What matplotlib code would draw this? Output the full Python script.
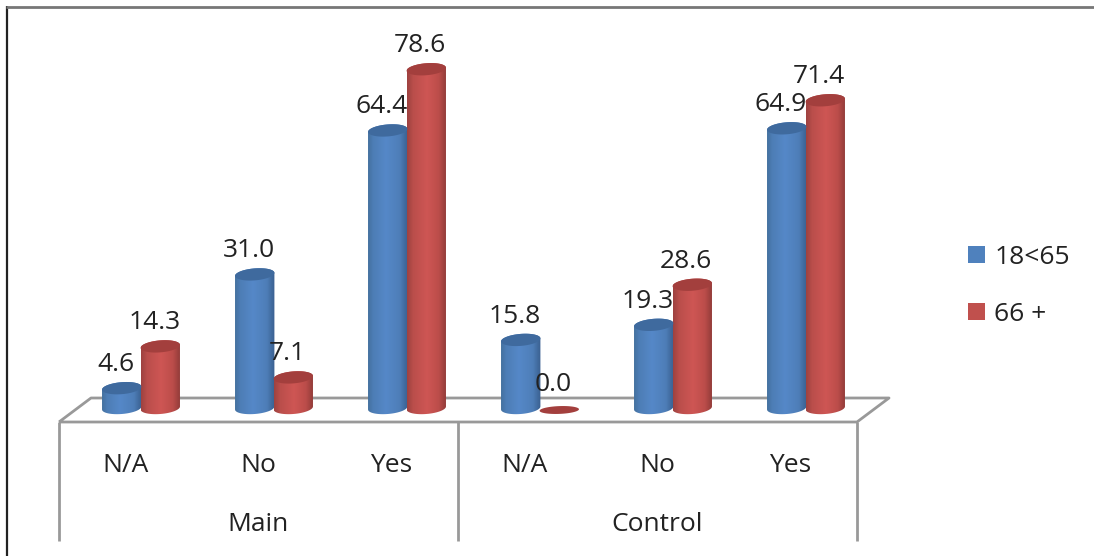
import numpy as np
import matplotlib
matplotlib.use("Agg")
import matplotlib.pyplot as plt
from matplotlib.colors import LinearSegmentedColormap
from matplotlib.patches import Patch, Polygon
from matplotlib.transforms import Affine2D

categories = ["N/A", "No", "Yes", "N/A", "No", "Yes"]
groups = ["Main", "Control"]
young = [4.6, 31.0, 64.4, 15.8, 19.3, 64.9]
old = [14.3, 7.1, 78.6, 0.0, 28.6, 71.4]
series_names = ["18<65", "66 +"]

W, H = 1094, 556
plt.rcParams["font.family"] = ["Open Sans", "DejaVu Sans"]
TXT = "#222222"
FS = 19
GRAY = "#999999"

fig = plt.figure(figsize=(W / 100, H / 100), dpi=100)
ax = fig.add_axes([0, 0, 1, 1])
ax.axis("off")

# one x unit is one category, one y unit is one percent
PX_X = 133.0
PX_Y = 4.31
XLIM = (-141 / PX_X, (W - 141) / PX_X)
YLIM = ((408 - H) / PX_Y, 408 / PX_Y)

# frame and floor are decoration, so they are placed in pixels
px = Affine2D().scale(1 / W, -1 / H).translate(0, 1) + fig.transFigure


def pline(xs, ys, color=GRAY, lw=2.0):
    ax.plot(xs, ys, color=color, lw=lw, transform=px, clip_on=False, solid_capstyle="butt", zorder=1)


pline([7, 7], [6, 556], "#222222", 1.6)
pline([6, 1094], [7, 7], "#777777", 2.0)
pline([59, 91, 889, 857, 59], [422, 398, 398, 422, 422])
for x in [59, 458, 857]:
    pline([x, x], [422, 541])


def cylinder(xc, value, base_cmap, cap_color, half=0.148):
    ry = 6 / PX_Y
    tilt = 1.5 / PX_Y
    t = np.linspace(0, 2 * np.pi, 80)
    if value == 0:
        # an empty bar is only a flat disc on the floor
        cap = Polygon(np.c_[xc + half * np.cos(t), -2 / PX_Y + 0.65 * ry * np.sin(t) + 0.5 * tilt * np.cos(t)],
                      fc=cap_color, ec="none", zorder=3)
        ax.add_patch(cap)
        return
    lower = np.linspace(np.pi, 2 * np.pi, 40)
    upper = np.linspace(0, np.pi, 40)
    outline = np.r_[np.c_[xc + half * np.cos(lower), ry * np.sin(lower) + tilt * np.cos(lower)],
                    np.c_[xc + half * np.cos(upper), value + ry * np.sin(upper) + tilt * np.cos(upper)]]
    body = Polygon(outline, fc="none", ec="none", zorder=3)
    ax.add_patch(body)
    grad = np.linspace(0, 1, 64).reshape(1, -1)
    im = ax.imshow(grad, cmap=base_cmap, extent=[xc - half, xc + half, -2 * ry, value + 2 * ry],
                   aspect="auto", zorder=3, interpolation="bilinear")
    im.set_clip_path(body)
    cap = Polygon(np.c_[xc + half * np.cos(t), value + ry * np.sin(t) + tilt * np.cos(t)],
                  fc=cap_color, ec="none", zorder=4)
    ax.add_patch(cap)


blue_cm = LinearSegmentedColormap.from_list(
    "b", [(0, "#44719F"), (0.12, "#4D7DB5"), (0.45, "#5588C8"), (0.8, "#4E7EB8"), (1, "#3A6090")])
red_cm = LinearSegmentedColormap.from_list(
    "r", [(0, "#9E4240"), (0.15, "#BA4E4B"), (0.5, "#CE5654"), (0.8, "#BC4D4A"), (1, "#8F3A38")])

series = [(young, -0.145, blue_cm, "#3F6A9E"), (old, 0.145, red_cm, "#A33F3D")]
for vals, off, cm, cap_col in series:
    for i, v in enumerate(vals):
        cylinder(i + off, v, cm, cap_col)
        ax.annotate(f"{v:.1f}", (i + off, v), xytext=(-4.3, 17), textcoords="offset points",
                    ha="center", va="center", fontsize=FS, color=TXT, zorder=10)

for i, c in enumerate(categories):
    ax.annotate(c, (i, 0), xytext=(-11.2, -41.5), textcoords="offset points",
                ha="center", va="center", fontsize=FS, color=TXT)
for g, name in enumerate(groups):
    ax.annotate(name, (1 + 3 * g, 0), xytext=(-11.2, -84), textcoords="offset points",
                ha="center", va="center", fontsize=FS, color=TXT)

handles = [Patch(fc="#4F81BD", ec="none"), Patch(fc="#C0504D", ec="none")]
ax.legend(handles, series_names, loc="upper left", bbox_to_anchor=(968 / W, 1 - 245 / H),
          frameon=False, fontsize=FS, handlelength=0.64, handleheight=0.64,
          handletextpad=0.35, labelspacing=1.2, borderaxespad=0, borderpad=0, labelcolor=TXT)

ax.set_xlim(*XLIM)
ax.set_ylim(*YLIM)
fig.savefig("out.png", dpi=100)
